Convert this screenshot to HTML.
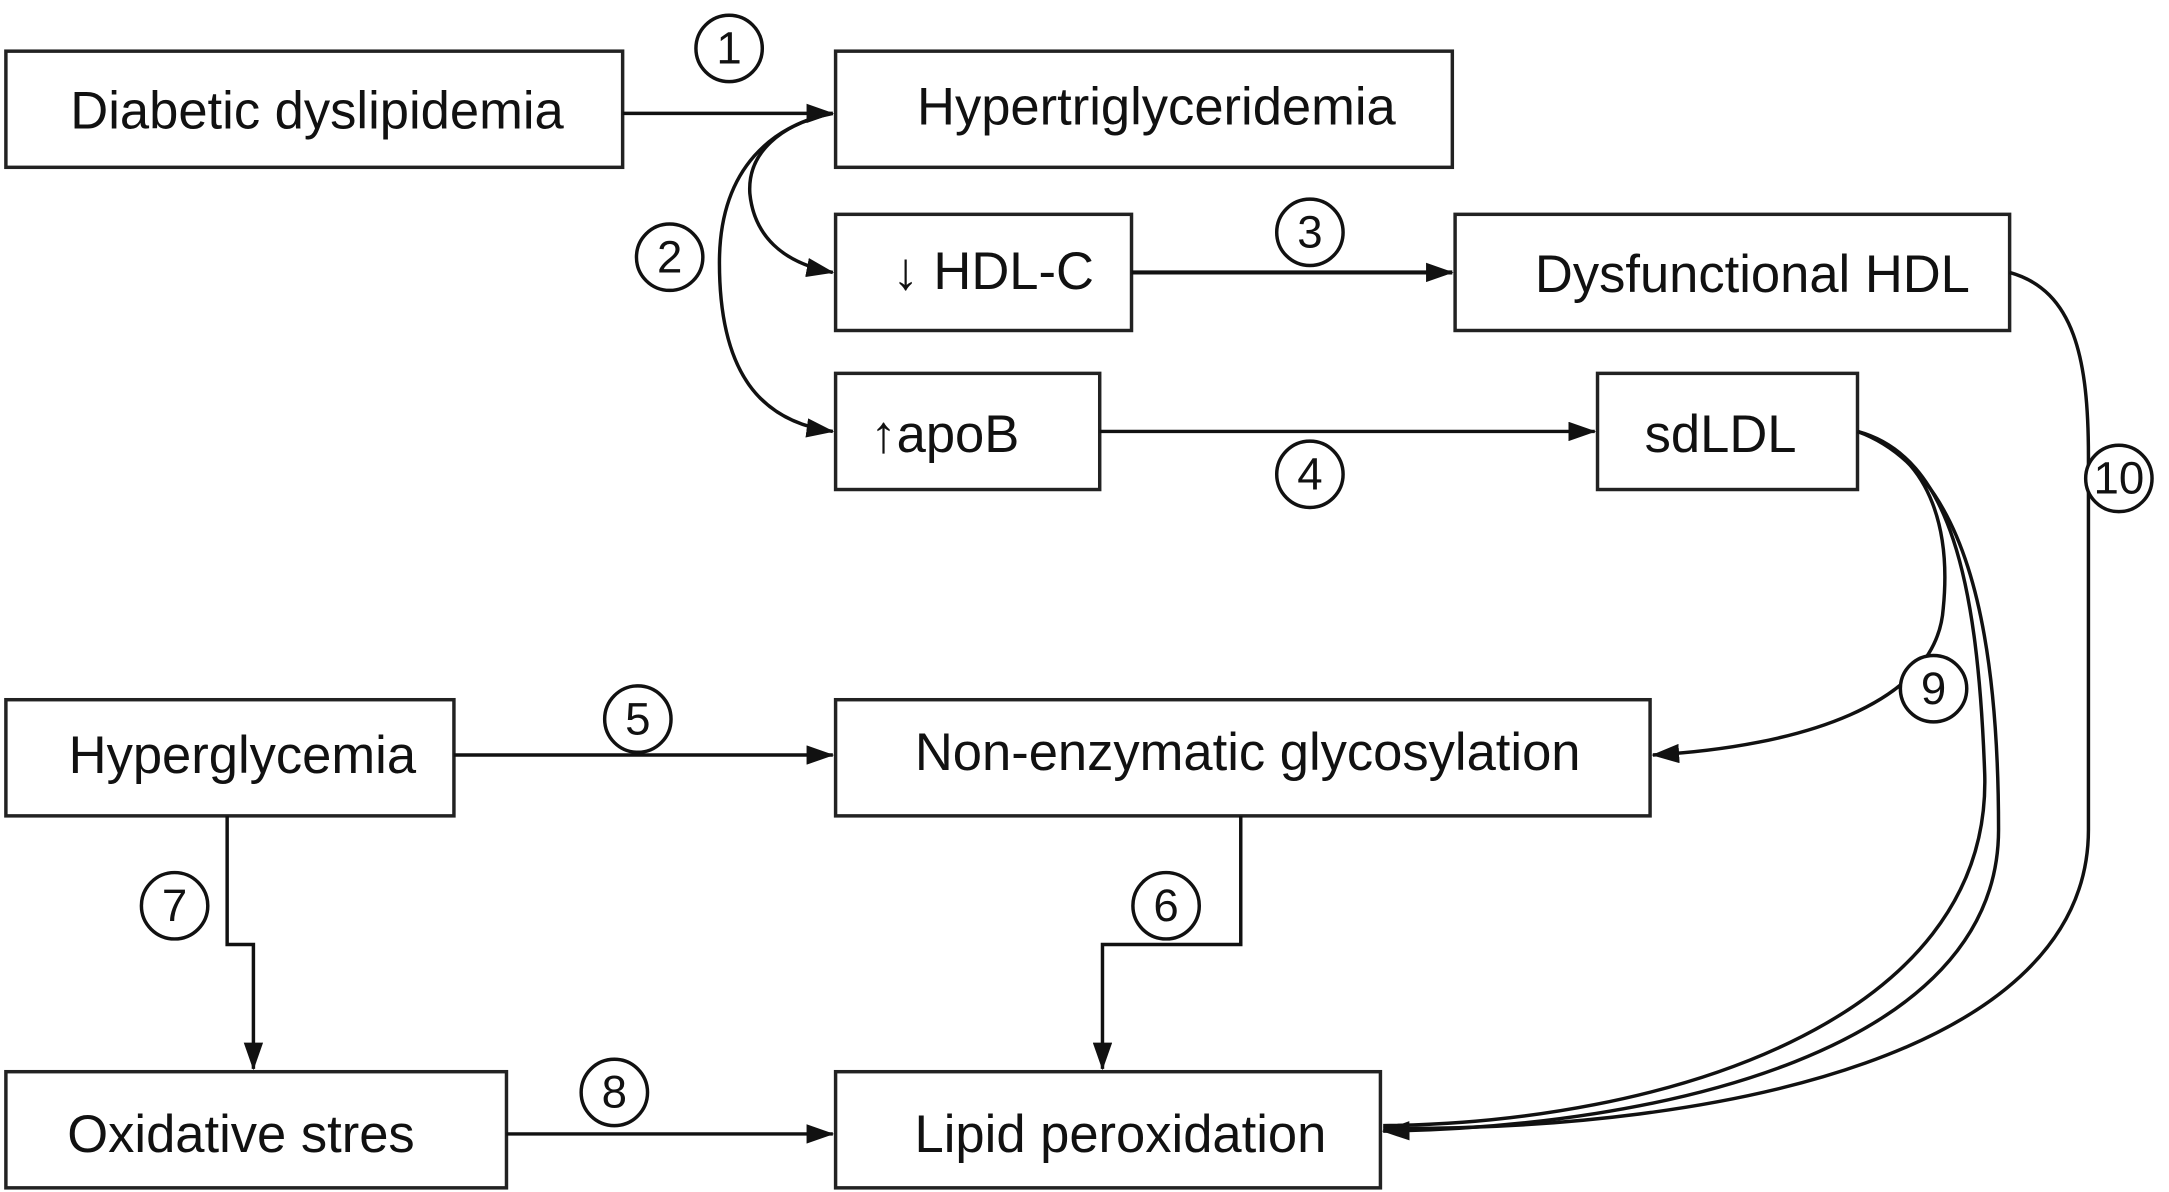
<!DOCTYPE html>
<html><head><meta charset="utf-8"><style>
html,body{margin:0;padding:0;background:#fff;}
svg{display:block;}
text{font-family:"Liberation Sans",Arial,sans-serif;fill:#111;}
</style></head><body>
<svg width="2169" height="1192" viewBox="0 0 1568 862" xmlns="http://www.w3.org/2000/svg">
<defs>
<marker id="b" markerWidth="20" markerHeight="14" refX="19" refY="7" orient="auto" markerUnits="userSpaceOnUse">
<path d="M0,0 L20,7 L0,14 z" fill="#111"/></marker>
</defs>
<g fill="none" stroke="#222" stroke-width="2.5">
<rect x="4" y="37" width="446" height="84"/>
<rect x="604" y="37" width="446" height="84"/>
<rect x="604" y="155" width="214" height="84"/>
<rect x="1052" y="155" width="401" height="84"/>
<rect x="604" y="270" width="191" height="84"/>
<rect x="1155" y="270" width="188" height="84"/>
<rect x="4" y="506" width="324" height="84"/>
<rect x="604" y="506" width="589" height="84"/>
<rect x="4" y="775" width="362" height="84"/>
<rect x="604" y="775" width="394" height="84"/>
</g>
<g font-size="38" text-anchor="middle">
<text x="229" y="93">Diabetic dyslipidemia</text>
<text x="836" y="90">Hypertriglyceridemia</text>
<text x="718" y="209">↓ HDL-C</text>
<text x="1267" y="211">Dysfunctional HDL</text>
<text x="683" y="327">↑apoB</text>
<text x="1244" y="327">sdLDL</text>
<text x="175" y="559">Hyperglycemia</text>
<text x="902" y="557">Non-enzymatic glycosylation</text>
<text x="174" y="833">Oxidative stres</text>
<text x="810" y="833">Lipid peroxidation</text>
</g>
<g fill="none" stroke="#111" stroke-width="2.5">
<path d="M450,82 L602,82" marker-end="url(#b)"/>
<path d="M602,82 C560,90 520,120 520,190 C520,270 550,305 602,312" marker-end="url(#b)"/>
<path d="M600,82 C565,90 540,110 542,140 C545,170 565,190 602,197" marker-end="url(#b)"/>
<path d="M818,197 L1050,197" stroke-width="3" marker-end="url(#b)"/>
<path d="M795,312 L1153,312" marker-end="url(#b)"/>
<path d="M328,546 L602,546" marker-end="url(#b)"/>
<path d="M897,590 L897,683 L797,683 L797,773" marker-end="url(#b)"/>
<path d="M164,590 L164,683 L183,683 L183,773" marker-end="url(#b)"/>
<path d="M366,820 L602,820" marker-end="url(#b)"/>
<path d="M1343,312 C1400,330 1410,390 1405,440 C1400,510 1300,540 1195,546" marker-end="url(#b)"/>
<path d="M1343,312 C1420,340 1445,450 1445,600 C1445,760 1200,815 1000,818" marker-end="url(#b)"/>
<path d="M1453,197 C1500,210 1510,260 1510,330 L1510,600 C1510,760 1250,818 1000,816"/>
<path d="M1343,312 C1410,330 1430,420 1435,560 C1440,740 1200,812 1000,814"/>
</g>
<g fill="#fff" stroke="#111" stroke-width="2.5">
<circle cx="527" cy="35" r="24"/>
<circle cx="484" cy="186" r="24"/>
<circle cx="947" cy="168" r="24"/>
<circle cx="947" cy="343" r="24"/>
<circle cx="461" cy="520" r="24"/>
<circle cx="843" cy="655" r="24"/>
<circle cx="126" cy="655" r="24"/>
<circle cx="444" cy="790" r="24"/>
<circle cx="1398" cy="498" r="24"/>
<circle cx="1532" cy="346" r="24"/>
</g>
<g font-size="33" text-anchor="middle">
<text x="527" y="46">1</text>
<text x="484" y="197">2</text>
<text x="947" y="179">3</text>
<text x="947" y="354">4</text>
<text x="461" y="531">5</text>
<text x="843" y="666">6</text>
<text x="126" y="666">7</text>
<text x="444" y="801">8</text>
<text x="1398" y="509">9</text>
<text x="1532" y="357">10</text>
</g>
</svg>
</body></html>
